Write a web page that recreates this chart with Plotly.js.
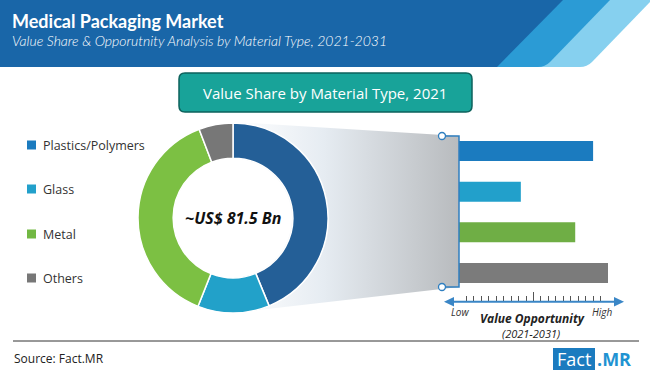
<!DOCTYPE html>
<html>
<head>
<meta charset="utf-8">
<script src="https://cdn.plot.ly/plotly-3.0.1.min.js"></script>
<style>html,body{margin:0;padding:0;background:#fff;}#chart{width:650px;height:376px;}</style>
</head>
<body>
<div id="chart"></div>
<script>
// ---- data ----
const categories = ['Plastics/Polymers', 'Glass', 'Metal', 'Others'];
const shareValues = [43.8, 12.2, 38.2, 5.8];          // value share 2021 (%)
const opportunityValues = [90, 41.5, 78, 100];        // relative value opportunity 2021-2031 (Low=0, High=100)
const donutColors = ['#245f97', '#22a1c9', '#7cc043', '#777777'];
const barColors = ['#1b7bbf', '#22a0cb', '#6fae45', '#7b7b7b'];
const legendColors = ['#1b7bbf', '#22a0cb', '#72b843', '#777777'];
const centerLabel = '~US$ 81.5 Bn';
const titleText = 'Medical Packaging Market';
const subtitleText = 'Value Share & Opporutnity Analysis by Material Type, 2021-2031';
const boxTitle = 'Value Share by Material Type, 2021';
const scaleLabels = ['Low', 'High'];
const axisTitle = ['Value Opportunity', '(2021-2031)'];
const sourceText = 'Source: Fact.MR';

const W = 650, H = 376;
const px = v => v / W, py = v => 1 - v / H;

const traces = [];
// gradient funnel (decoration, pixel axes)
traces.push({
  type: 'scatter', xaxis: 'x', yaxis: 'y',
  x: [233, 459, 459, 233, 233], y: [122, 136, 287, 313, 122],
  mode: 'lines', line: {width: 0, color: 'rgba(0,0,0,0)'},
  fill: 'toself',
  fillgradient: {type: 'horizontal', colorscale: [[0, '#ffffff'], [0.4, '#e6ecf2'], [1, '#b8bbbe']]},
  hoverinfo: 'skip', showlegend: false
});
// bars
traces.push({
  type: 'bar', orientation: 'h', xaxis: 'x2', yaxis: 'y2',
  y: categories, x: opportunityValues,
  marker: {color: barColors, line: {width: 0}},
  width: 0.49, showlegend: false, hoverinfo: 'x+y'
});
// donut
traces.push({
  type: 'pie', labels: categories, values: shareValues,
  hole: 0.63, sort: false, direction: 'clockwise', rotation: 0,
  marker: {colors: donutColors, line: {color: '#ffffff', width: 1.5}},
  textinfo: 'none', showlegend: false,
  domain: {x: [px(138), px(328)], y: [py(313), py(123)]}
});

const shapes = [
  // header stripes
  {type: 'path', xref: 'x', yref: 'y', path: 'M0,0 L652,0 L592,62 Q587,67 580,67 L0,67 Z', fillcolor: '#86d0ef', line: {width: 0}},
  {type: 'path', xref: 'x', yref: 'y', path: 'M0,0 L610,0 L550,62 Q545,67 538,67 L0,67 Z', fillcolor: '#2b9bd5', line: {width: 0}},
  {type: 'path', xref: 'x', yref: 'y', path: 'M0,0 L563,0 L497,67 L0,67 Z', fillcolor: '#1966a8', line: {width: 0}},
  // teal box
  {type: 'path', xref: 'x', yref: 'y', path: 'M185,73 L466,73 Q472,73 472,79 L472,106 Q472,112 466,112 L185,112 Q179,112 179,106 L179,79 Q179,73 185,73 Z', fillcolor: '#18a399', line: {color: '#0d625c', width: 1.5}},
  // white hole cover
  {type: 'circle', xref: 'x', yref: 'y', x0: 233 - 59, x1: 233 + 59, y0: 218 - 59, y1: 218 + 59, fillcolor: '#ffffff', line: {width: 0}},
  // connector bracket
  {type: 'path', xref: 'x', yref: 'y', path: 'M442,136 L459,136 L459,287 L442,287', line: {color: '#2f7fc0', width: 1.5}},
  {type: 'circle', xref: 'x', yref: 'y', x0: 438.5, x1: 445.5, y0: 132.5, y1: 139.5, fillcolor: '#ffffff', line: {color: '#2f7fc0', width: 1.3}},
  {type: 'circle', xref: 'x', yref: 'y', x0: 438.5, x1: 445.5, y0: 283.5, y1: 290.5, fillcolor: '#ffffff', line: {color: '#2f7fc0', width: 1.3}},
  // arrow line
  {type: 'line', xref: 'x', yref: 'y', x0: 450, x1: 618, y0: 301.7, y1: 301.7, line: {color: '#3a86c6', width: 2}},
  {type: 'path', xref: 'x', yref: 'y', path: 'M444,301.7 L454,297 L454,306.4 Z', fillcolor: '#3a86c6', line: {width: 0}},
  {type: 'path', xref: 'x', yref: 'y', path: 'M624,301.7 L614,297 L614,306.4 Z', fillcolor: '#3a86c6', line: {width: 0}},
  // bottom rule
  {type: 'line', xref: 'x', yref: 'y', x0: 13, x1: 639, y0: 341, y1: 341, line: {color: '#333333', width: 1}},
  // logo box
  {type: 'rect', xref: 'x', yref: 'y', x0: 553, x1: 595, y0: 348, y1: 370, fillcolor: '#1b7bbf', line: {width: 0}}
];

const legendY = [145, 189, 234, 278];
categories.forEach((c, i) => {
  shapes.push({type: 'rect', xref: 'x', yref: 'y', x0: 27, x1: 36, y0: legendY[i] - 4.5, y1: legendY[i] + 4.5, fillcolor: legendColors[i], line: {width: 0}});
});

const annotations = [
  {xref: 'x', yref: 'y', x: 10, y: 20.5, text: '<b>' + titleText + '</b>', showarrow: false, xanchor: 'left', yanchor: 'middle', font: {family: 'Lato, sans-serif', size: 18, color: '#ffffff'}},
  {xref: 'x', yref: 'y', x: 10, y: 40, text: '<i>' + subtitleText + '</i>', showarrow: false, xanchor: 'left', yanchor: 'middle', font: {family: 'Lato, sans-serif', size: 14, color: '#ffffff', weight: 300}},
  {xref: 'x', yref: 'y', x: 325, y: 92.5, text: boxTitle, showarrow: false, xanchor: 'center', yanchor: 'middle', font: {family: 'Open Sans, sans-serif', size: 15, color: '#ffffff'}},
  {xref: 'x', yref: 'y', x: 233, y: 218, text: '<b><i>' + centerLabel + '</i></b>', showarrow: false, xanchor: 'center', yanchor: 'middle', font: {family: 'Open Sans, sans-serif', size: 16, color: '#111111'}},
  {xref: 'x', yref: 'y', x: 460, y: 312, text: '<i>' + scaleLabels[0] + '</i>', showarrow: false, xanchor: 'center', yanchor: 'middle', font: {family: 'Open Sans, sans-serif', size: 10, color: '#333333'}},
  {xref: 'x', yref: 'y', x: 602, y: 312, text: '<i>' + scaleLabels[1] + '</i>', showarrow: false, xanchor: 'center', yanchor: 'middle', font: {family: 'Open Sans, sans-serif', size: 10, color: '#333333'}},
  {xref: 'x', yref: 'y', x: 532, y: 318.5, text: '<b><i>' + axisTitle[0] + '</i></b>', showarrow: false, xanchor: 'center', yanchor: 'middle', font: {family: 'Open Sans, sans-serif', size: 12, color: '#222222'}},
  {xref: 'x', yref: 'y', x: 531, y: 333, text: '<i>' + axisTitle[1] + '</i>', showarrow: false, xanchor: 'center', yanchor: 'middle', font: {family: 'Open Sans, sans-serif', size: 11, color: '#222222'}},
  {xref: 'x', yref: 'y', x: 12, y: 358, text: sourceText, showarrow: false, xanchor: 'left', yanchor: 'middle', font: {family: 'Open Sans, sans-serif', size: 12, color: '#222222'}},
  {xref: 'x', yref: 'y', x: 574, y: 358.5, text: 'Fact', showarrow: false, xanchor: 'center', yanchor: 'middle', font: {family: 'Open Sans, sans-serif', size: 18, color: '#ffffff'}},
  {xref: 'x', yref: 'y', x: 595, y: 358.5, text: '<b>.MR</b>', showarrow: false, xanchor: 'left', yanchor: 'middle', font: {family: 'Open Sans, sans-serif', size: 18, color: '#1f93d2'}}
];
categories.forEach((c, i) => {
  annotations.push({xref: 'x', yref: 'y', x: 41, y: legendY[i], text: c, showarrow: false, xanchor: 'left', yanchor: 'middle', font: {family: 'Open Sans, sans-serif', size: 12.5, color: '#333333'}});
});

const layout = {
  width: W, height: H, margin: {l: 0, r: 0, t: 0, b: 0},
  paper_bgcolor: '#ffffff', plot_bgcolor: 'rgba(0,0,0,0)',
  showlegend: false,
  xaxis: {domain: [0, 1], range: [0, W], visible: false, fixedrange: true},
  yaxis: {domain: [0, 1], range: [H, 0], visible: false, fixedrange: true},
  xaxis2: {domain: [px(459), px(608)], range: [0, 100], anchor: 'free', position: py(301.7),
    showgrid: false, zeroline: false, showline: false, showticklabels: false,
    ticks: 'inside', tick0: 0, dtick: 50, ticklen: 10, tickwidth: 1, tickcolor: '#555555',
    minor: {dtick: 5, ticks: 'inside', ticklen: 6, tickwidth: 1, tickcolor: '#555555', showgrid: false},
    fixedrange: true},
  yaxis2: {domain: [py(293.3), py(130.7)], range: [3.5, -0.5], type: 'category',
    categoryorder: 'array', categoryarray: categories, anchor: 'x2',
    visible: false, fixedrange: true},
  shapes: shapes,
  annotations: annotations
};

Plotly.newPlot('chart', traces, layout, {displayModeBar: false, staticPlot: true});
</script>
</body>
</html>
